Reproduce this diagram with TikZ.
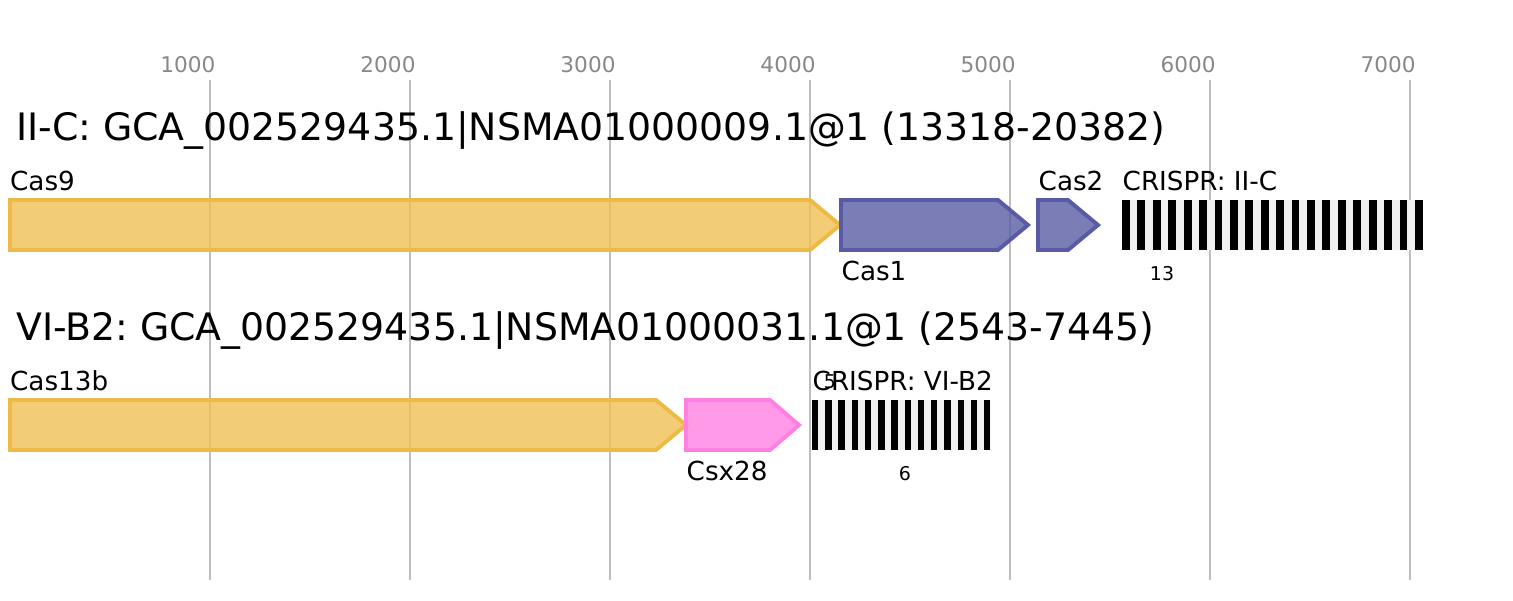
\documentclass[tikz,border=0pt]{standalone}
\usepackage{fontspec}
\setmainfont{DejaVu Sans}
\usetikzlibrary{positioning}
\frenchspacing

\definecolor{geneyellow}{RGB}{239,192,84}
\definecolor{edgeyellow}{RGB}{238,186,70}
\definecolor{geneblue}{RGB}{89,92,164}
\definecolor{edgeblue}{RGB}{88,90,165}
\definecolor{genepink}{RGB}{255,127,226}
\definecolor{edgepink}{RGB}{255,128,225}
\definecolor{gridgray}{RGB}{190,190,190}
\definecolor{tickgray}{RGB}{136,136,136}
\definecolor{spacergray}{RGB}{240,240,240}

\begin{document}
\begin{tikzpicture}[x=0.01cm, y=-0.01cm,
  gene/.style={line width=1.1pt, line join=miter, fill opacity=0.8},
  title/.style={anchor=base west, inner sep=0pt, font=\fontsize{10.75}{12}\selectfont},
  lbl/.style={anchor=base west, inner sep=0pt, font=\fontsize{7.45}{9}\selectfont},
  tick/.style={anchor=base, inner sep=0pt, text=tickgray, font=\fontsize{6.15}{7}\selectfont},
  count/.style={anchor=base, inner sep=0pt, font=\fontsize{5.4}{6}\selectfont}]
\useasboundingbox (0,0) rectangle (1513,600);

% Position grid
\foreach \k in {1,...,7} {
  \draw[gridgray, line width=0.57pt] ({10+200*\k},80) -- ({10+200*\k},580);
  \node[tick] (tick\k) at ({-12+200*\k},72) {\k000};
}

% II-C locus
\node[title] (locusA) at (15.5,140) {II-C: GCA\_002529435.1|NSMA01000009.1@1 (13318-20382)};
\draw[gene, draw=edgeyellow, fill=geneyellow]
    (10,200) -- (810,200) -- (840,225) -- (810,250) -- (10,250) -- cycle;
\node[lbl] (cas9) at (9.5,190) {Cas9};
\draw[gene, draw=edgeblue, fill=geneblue]
    (841,200) -- (998,200) -- (1028,225) -- (998,250) -- (841,250) -- cycle;
\node[lbl] (cas1) at (841,280) {Cas1};
\draw[gene, draw=edgeblue, fill=geneblue]
    (1038,200) -- (1068,200) -- (1098,225) -- (1068,250) -- (1038,250) -- cycle;
\node[lbl] (cas2) at (1038,190) {Cas2};

% II-C array
\fill[spacergray] (1122,200) rectangle (1423,250);
\foreach \i in {0,...,19}
  \fill ({1122+15.42*\i},200) rectangle ++(7.8,50);
\node[lbl] (crisprA) at (1122,190) {CRISPR: II-C};
\node[count] (nA) at (1162,280) {13};

% VI-B2 locus
\node[title] (locusB) at (15.5,340) {VI-B2: GCA\_002529435.1|NSMA01000031.1@1 (2543-7445)};
\draw[gene, draw=edgeyellow, fill=geneyellow]
    (10,400) -- (656,400) -- (686,425) -- (656,450) -- (10,450) -- cycle;
\node[lbl] (cas13b) at (9.5,390) {Cas13b};
\draw[gene, draw=edgepink, fill=genepink]
    (686,400) -- (770,400) -- (799,425) -- (770,450) -- (686,450) -- cycle;
\node[lbl] (csx28) at (686,480) {Csx28};

% VI-B2 array
\fill[spacergray] (812,400) rectangle (991,450);
\foreach \i in {0,...,13}
  \fill ({812+13.23*\i},400) rectangle ++(6.4,50);
\node[lbl] (crisprB) at (812,390) {CRISPR: VI-B2};
\node[count] (nB) at (905,480) {6};
\node[count] (nC) at (830,388) {5};
\end{tikzpicture}
\end{document}
